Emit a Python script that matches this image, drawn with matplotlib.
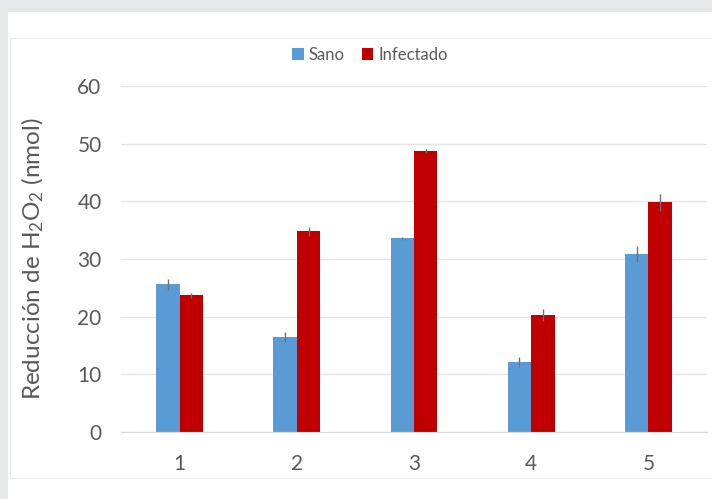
import numpy as np
import matplotlib.pyplot as plt
from matplotlib.patches import Rectangle

# data
grupos = ['1', '2', '3', '4', '5']
sano = [25.6, 16.5, 33.6, 12.1, 30.8]
sano_err = [1.0, 0.9, 0.3, 0.9, 1.4]
infectado = [23.7, 34.8, 48.7, 20.3, 39.8]
infectado_err = [0.4, 0.8, 0.3, 1.0, 1.4]

plt.rcParams['font.family'] = ['Lato', 'DejaVu Sans']
plt.rcParams['mathtext.fontset'] = 'custom'
plt.rcParams['mathtext.rm'] = 'Lato'
plt.rcParams['mathtext.it'] = 'Lato:italic'
plt.rcParams['mathtext.bf'] = 'Lato:bold'

fig = plt.figure(figsize=(7.12, 4.99), dpi=100, facecolor='white')

# gray page border (top and left strips) and faint chart frame
fig.patches.append(Rectangle((0, 1 - 12 / 499), 1, 12 / 499, transform=fig.transFigure,
                             facecolor='#e6e7e9', edgecolor='none', zorder=0))
fig.patches.append(Rectangle((0, 0), 8 / 712, 1, transform=fig.transFigure,
                             facecolor='#e6e7e9', edgecolor='none', zorder=0))
fig.patches.append(Rectangle((10 / 712, 1 - 478 / 499), 1, 440 / 499, transform=fig.transFigure,
                             facecolor='none', edgecolor='#ececec', linewidth=0.8, zorder=0))

ax = fig.add_axes([121 / 712, 67 / 499, 586 / 712, 346 / 499])

x = np.arange(len(grupos))
w = 0.2
ax.bar(x - w / 2, sano, w, color='#5b9bd5', label='Sano', zorder=2)
ax.bar(x + w / 2, infectado, w, color='#c00000', label='Infectado', zorder=2)
ax.errorbar(x - w / 2, sano, yerr=sano_err, fmt='none', ecolor='#707070', elinewidth=1, capsize=0, zorder=3)
ax.errorbar(x + w / 2, infectado, yerr=infectado_err, fmt='none', ecolor='#707070', elinewidth=1, capsize=0, zorder=3)

ax.set_xlim(-0.5, len(grupos) - 0.5)
ax.set_ylim(0, 60)
ax.set_yticks(range(0, 61, 10))
ax.set_xticks(x)
ax.set_xticklabels(grupos)
ax.grid(axis='y', color='#e3e3e3', linewidth=0.9, zorder=0)
for s in ['top', 'right', 'left']:
    ax.spines[s].set_visible(False)
ax.spines['bottom'].set_color('#d9d9d9')
ax.tick_params(axis='both', length=0, labelcolor='#595959', labelsize=15)
ax.tick_params(axis='y', pad=14)
ax.tick_params(axis='x', pad=16)

ax.set_ylabel('Reducción de H$_2$O$_2$ (nmol)', fontsize=17.5, color='#595959')
ax.yaxis.set_label_coords(-0.128, 0.5)

fig.legend(loc='center', bbox_to_anchor=(370 / 712, 1 - 55 / 499), ncol=2, frameon=False,
           fontsize=12, handlelength=0.7, handleheight=0.7, handletextpad=0.3,
           columnspacing=1.0, labelcolor='#595959')

fig.savefig('out.png', dpi=100)
